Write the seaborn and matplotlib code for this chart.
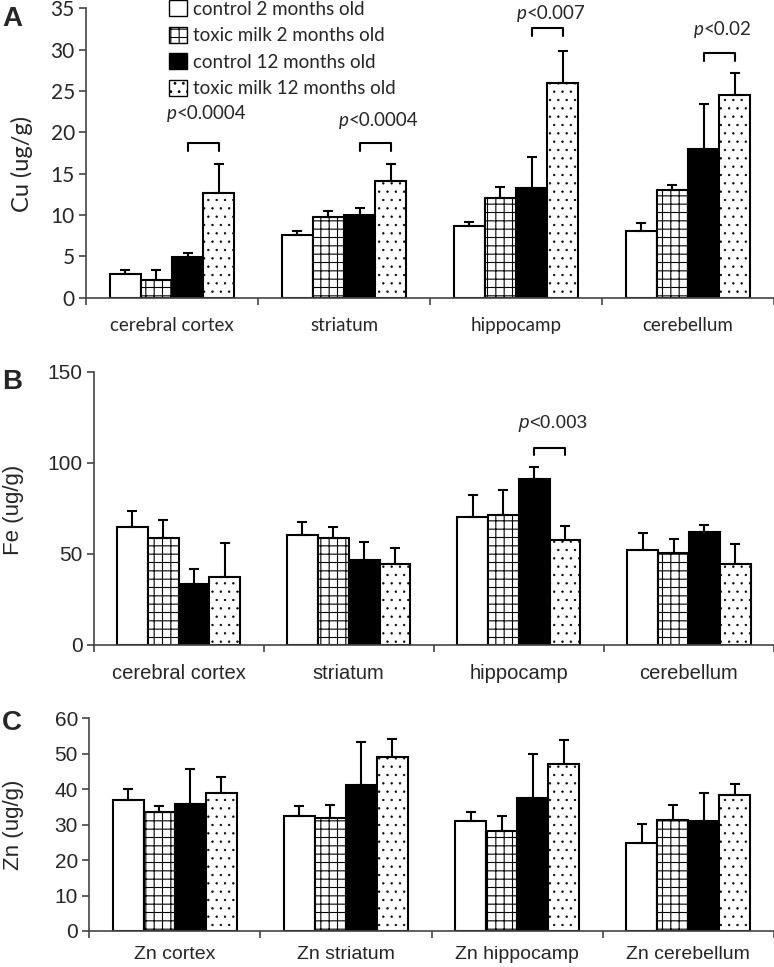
import matplotlib
matplotlib.use("Agg")
import matplotlib.pyplot as plt
import matplotlib.patches as mpatches
import pandas as pd
import seaborn as sns

# groups and regions
groups = ['control 2 months old', 'toxic milk 2 months old',
          'control 12 months old', 'toxic milk 12 months old']
regions_cu = ['cerebral cortex', 'striatum', 'hippocamp', 'cerebellum']
regions_fe = ['cerebral cortex', 'striatum', 'hippocamp', 'cerebellum']
regions_zn = ['Zn cortex', 'Zn striatum', 'Zn hippocamp', 'Zn cerebellum']

# means per group (rows follow `groups`), one value per region
cu_means = [[2.9, 7.6, 8.7, 8.1],
            [2.2, 9.8, 12.1, 13.0],
            [4.9, 10.0, 13.3, 18.0],
            [12.7, 14.1, 26.0, 24.5]]
cu_err = [[0.5, 0.5, 0.5, 0.9],
          [1.1, 0.7, 1.3, 0.6],
          [0.5, 0.9, 3.7, 5.4],
          [3.5, 2.1, 3.8, 2.7]]

fe_means = [[65.0, 60.5, 70.4, 52.3],
            [59.0, 59.0, 71.5, 50.7],
            [33.7, 46.5, 91.3, 62.2],
            [37.5, 44.3, 57.8, 44.3]]
fe_err = [[8.6, 7.0, 11.9, 9.3],
          [9.7, 6.0, 13.6, 7.7],
          [8.2, 10.2, 6.2, 3.8],
          [18.3, 9.1, 7.7, 10.9]]

zn_means = [[36.9, 32.5, 31.1, 24.9],
            [33.7, 31.8, 28.2, 31.2],
            [35.9, 41.1, 37.6, 31.0],
            [38.8, 49.0, 47.1, 38.3]]
zn_err = [[3.1, 2.8, 2.5, 5.4],
          [1.6, 3.7, 4.1, 4.3],
          [9.7, 12.2, 12.2, 8.0],
          [4.6, 5.2, 6.8, 3.3]]

# significance marks: region index, bracket level, text level, label
cu_sig_region = [0, 1, 2, 3]
cu_sig_level = [18.7, 18.7, 32.6, 29.6]
cu_sig_text = [22.3, 21.4, 34.4, 32.4]
cu_sig_label = ['<0.0004', '<0.0004', '<0.007', '<0.02']
fe_sig_region = [2]
fe_sig_level = [108.3]
fe_sig_text = [121.6]
fe_sig_label = ['<0.003']

sns.set_theme(style='white')
plt.rcParams['hatch.linewidth'] = 0.8
plt.rcParams['hatch.color'] = 'black'

colors = {groups[0]: 'white', groups[1]: 'white', groups[2]: 'black', groups[3]: 'white'}
hatches = ['', '++', '', '..']
spine_col = '#444444'


def to_frame(regions, means):
    rows = []
    for g, vals in zip(groups, means):
        for r, v in zip(regions, vals):
            rows.append({'region': r, 'group': g, 'value': v})
    return pd.DataFrame(rows)


def thin_dots(p, h):
    if h == '..' and hasattr(p, 'set_hatch_linewidth'):
        p.set_hatch_linewidth(0.45)


def panel(ax, regions, means, errs, ylim, yticks, xr, family, tsize, xsize, xpad):
    df = to_frame(regions, means)
    sns.barplot(data=df, x='region', y='value', hue='group', order=regions,
                hue_order=groups, palette=colors, width=0.725, saturation=1,
                edgecolor='black', linewidth=1.5, legend=False, ax=ax)
    for cont, h, e in zip(ax.containers, hatches, errs):
        xs = []
        for p in cont.patches:
            p.set_hatch(h)
            thin_dots(p, h)
            xs.append(p.get_x() + p.get_width() / 2)
        ax.errorbar(xs, [p.get_height() for p in cont.patches],
                    yerr=[[0] * len(e), e], fmt='none', ecolor='black',
                    elinewidth=1.5, capsize=3.5, capthick=1.5, zorder=1)
    ax.set_xlim(-0.5, xr)
    ax.set_ylim(*ylim)
    ax.set_yticks(yticks)
    ax.set_xlabel('')
    ax.set_ylabel('')
    ax.set_xticks(range(len(regions)))
    ax.set_xticklabels(regions, family=family, fontsize=xsize)
    ax.set_xticks([i - 0.5 for i in range(len(regions) + 1)], minor=True)
    ax.tick_params(axis='x', which='major', length=0, pad=xpad)
    ax.tick_params(axis='x', which='minor', length=5, width=1.2,
                   color=spine_col, direction='out', bottom=True)
    ax.tick_params(axis='y', length=5, width=1.2, color=spine_col,
                   direction='out', left=True, pad=3)
    for lab in ax.get_yticklabels():
        lab.set_family(family)
        lab.set_fontsize(tsize)
    for s in ['top', 'right']:
        ax.spines[s].set_visible(False)
    for s in ['left', 'bottom']:
        ax.spines[s].set_color(spine_col)
        ax.spines[s].set_linewidth(1.2)


def brackets(ax, reg, level, tlevel, labels, drop, family, size):
    c12 = ax.containers[2].patches
    t12 = ax.containers[3].patches
    for r, lv, tl, lab in zip(reg, level, tlevel, labels):
        x0 = c12[r].get_x() + c12[r].get_width() / 2
        x1 = t12[r].get_x() + t12[r].get_width() / 2
        ax.plot([x0, x0, x1, x1], [lv - drop, lv, lv, lv - drop],
                color='black', lw=1.5, clip_on=False)
        t = ax.text((x0 + x1) / 2 + 0.05, tl, lab, ha='center', va='center',
                    family=family, fontsize=size, clip_on=False)
        ax.annotate('p', xy=(0, 0.5), xycoords=t, ha='right', va='center',
                    family=family, style='italic', fontsize=size)


fig = plt.figure(figsize=(7.74, 9.67), dpi=100)

axA = fig.add_axes([86 / 774, 1 - 297.7 / 967, 1 - 86 / 774, 289.4 / 967])
axB = fig.add_axes([93.5 / 774, 1 - 645 / 967, 1 - 93.5 / 774, 273.3 / 967])
axC = fig.add_axes([89 / 774, 1 - 931 / 967, 1 - 89 / 774, 212.7 / 967])

panel(axA, regions_cu, cu_means, cu_err, (0, 35), range(0, 36, 5),
      -0.5 + 688 / 177, 'Lato', 15, 13.5, 14)
panel(axB, regions_fe, fe_means, fe_err, (0, 150), [0, 50, 100, 150],
      -0.5 + 680.5 / 175, 'Liberation Sans', 15, 14.5, 14)
panel(axC, regions_zn, zn_means, zn_err, (0, 60), range(0, 61, 10),
      -0.5 + 685 / 176, 'Liberation Sans', 15, 14, 11)

brackets(axA, cu_sig_region, cu_sig_level, cu_sig_text, cu_sig_label,
         1.0, 'Lato', 13.5)
brackets(axB, fe_sig_region, fe_sig_level, fe_sig_text, fe_sig_label,
         4.0, 'Liberation Sans', 13.5)

# y labels and panel letters
fig.text(22 / 774, 1 - 164 / 967, 'Cu (ug/g)', rotation=90, ha='center',
         va='center', family='Lato', fontsize=17)
fig.text(14 / 774, 1 - 510 / 967, 'Fe (ug/g)', rotation=90, ha='center',
         va='center', family='Liberation Sans', fontsize=16)
fig.text(14 / 774, 1 - 825 / 967, 'Zn (ug/g)', rotation=90, ha='center',
         va='center', family='Liberation Sans', fontsize=16)
for letter, y in zip(['A', 'B', 'C'], [19, 382, 723]):
    fig.text(12 / 774, 1 - y / 967, letter, ha='center', va='center',
             family='Liberation Sans', weight='bold', fontsize=20)

# legend
handles = [mpatches.Patch(facecolor=colors[g], edgecolor='black', hatch=h,
                          linewidth=1.0) for g, h in zip(groups, hatches)]
fig.legend(handles, groups, loc='upper left', bbox_to_anchor=(169 / 774, 1.0),
           frameon=False, prop={'family': 'Lato', 'size': 13.5},
           handlelength=0.95, handleheight=0.95, handletextpad=0.35,
           labelspacing=0.48, borderaxespad=0, borderpad=0)

fig.savefig('out.png', dpi=100)
